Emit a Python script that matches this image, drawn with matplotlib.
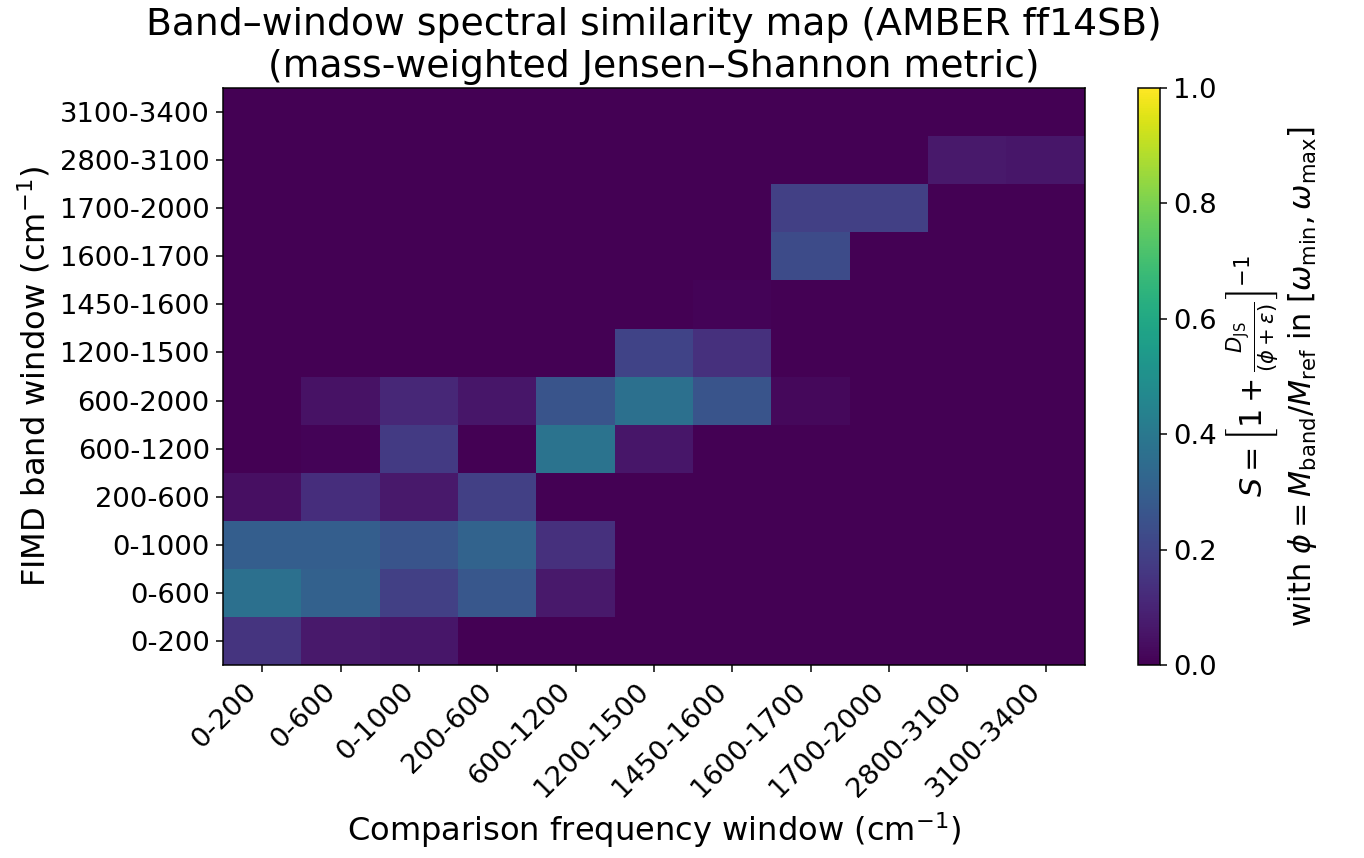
import numpy as np
import matplotlib
matplotlib.use("Agg")
import matplotlib.pyplot as plt

# Window labels (cm^-1)
x_windows = ["0-200", "0-600", "0-1000", "200-600", "600-1200", "1200-1500",
             "1450-1600", "1600-1700", "1700-2000", "2800-3100", "3100-3400"]
y_windows = ["0-200", "0-600", "0-1000", "200-600", "600-1200", "600-2000",
             "1200-1500", "1450-1600", "1600-1700", "1700-2000", "2800-3100",
             "3100-3400"]

# Similarity values, one row per FIMD band window (bottom to top)
row_0_200     = [0.15, 0.07, 0.06, 0.00, 0.00, 0.00, 0.00, 0.00, 0.00, 0.00, 0.00]
row_0_600     = [0.37, 0.31, 0.19, 0.27, 0.07, 0.00, 0.00, 0.00, 0.00, 0.00, 0.00]
row_0_1000    = [0.30, 0.30, 0.26, 0.32, 0.14, 0.00, 0.00, 0.00, 0.00, 0.00, 0.00]
row_200_600   = [0.04, 0.13, 0.07, 0.19, 0.00, 0.00, 0.00, 0.00, 0.00, 0.00, 0.00]
row_600_1200  = [0.00, 0.01, 0.17, 0.00, 0.38, 0.06, 0.00, 0.00, 0.00, 0.00, 0.00]
row_600_2000  = [0.00, 0.05, 0.11, 0.06, 0.26, 0.37, 0.26, 0.02, 0.00, 0.00, 0.00]
row_1200_1500 = [0.00, 0.00, 0.00, 0.00, 0.00, 0.20, 0.14, 0.00, 0.00, 0.00, 0.00]
row_1450_1600 = [0.00, 0.00, 0.00, 0.00, 0.00, 0.00, 0.01, 0.00, 0.00, 0.00, 0.00]
row_1600_1700 = [0.00, 0.00, 0.00, 0.00, 0.00, 0.00, 0.00, 0.23, 0.00, 0.00, 0.00]
row_1700_2000 = [0.00, 0.00, 0.00, 0.00, 0.00, 0.00, 0.00, 0.19, 0.19, 0.00, 0.00]
row_2800_3100 = [0.00, 0.00, 0.00, 0.00, 0.00, 0.00, 0.00, 0.00, 0.00, 0.07, 0.06]
row_3100_3400 = [0.00, 0.00, 0.00, 0.00, 0.00, 0.00, 0.00, 0.00, 0.00, 0.00, 0.00]

S = np.array([row_0_200, row_0_600, row_0_1000, row_200_600, row_600_1200,
              row_600_2000, row_1200_1500, row_1450_1600, row_1600_1700,
              row_1700_2000, row_2800_3100, row_3100_3400])

W, H = 1364, 858
DPI = 136
fig = plt.figure(figsize=(W / DPI, H / DPI), dpi=DPI)
ax = fig.add_axes([223 / W, 1 - 665 / H, (1085 - 223) / W, (665 - 88) / H])
cax = fig.add_axes([1138 / W, 1 - 665 / H, 22 / W, (665 - 88) / H])

im = ax.imshow(S, origin="lower", aspect="auto", cmap="viridis",
               vmin=0.0, vmax=1.0, interpolation="nearest")

ax.set_xticks(np.arange(len(x_windows)))
ax.set_xticklabels(x_windows, rotation=45, ha="right", fontsize=14.5)
ax.set_yticks(np.arange(len(y_windows)))
ax.set_yticklabels(y_windows, fontsize=14.5)
ax.set_xlabel(r"Comparison frequency window (cm$^{-1}$)", fontsize=17)
ax.set_ylabel(r"FIMD band window (cm$^{-1}$)", fontsize=17)
ax.set_title("Band–window spectral similarity map (AMBER ff14SB)\n"
             "(mass-weighted Jensen–Shannon metric)", fontsize=20)

cb = fig.colorbar(im, cax=cax)
cb.ax.tick_params(labelsize=14.5)
cb.set_label(r"$S=\left[1+\frac{D_{\rm JS}}{(\phi+\varepsilon)}\right]^{-1}$" "\n"
             r"with $\phi=M_{\rm band}/M_{\rm ref}$ in $[\omega_{\rm min},\omega_{\rm max}]$",
             fontsize=16)

fig.savefig("out.png", dpi=DPI)
